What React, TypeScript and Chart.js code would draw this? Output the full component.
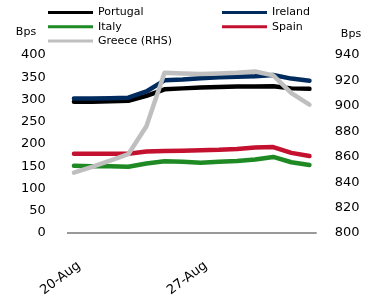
import { useEffect, useRef } from "react";
import { Chart, registerables } from "chart.js";
Chart.register(...registerables);

const categories = [
  "20-Aug", "21-Aug", "22-Aug", "23-Aug", "24-Aug", "25-Aug", "26-Aug",
  "27-Aug", "28-Aug", "29-Aug", "30-Aug", "31-Aug", "1-Sep", "2-Sep",
];
const xTickIndices = [0, 7];

const portugal = [295, 295, 296, 297, 308, 323, 325, 327, 328, 329, 329, 330, 325, 324];
const ireland = [302, 302, 303, 304, 318, 343, 345, 348, 350, 351, 352, 355, 347, 342];
const italy = [151, 150, 150, 149, 156, 161, 160, 158, 160, 162, 165, 171, 159, 153];
const spain = [178, 178, 178, 178, 183, 184, 185, 186, 187, 189, 192, 193, 180, 173];
const greece = [847.5, 852, 857, 862, 884, 926, 925.5, 925, 925.5, 926, 927, 924, 910, 901];

const leftMin = 0, leftMax = 400, leftStep = 50;
const rightMin = 800, rightMax = 940, rightStep = 20;

const FONT = '"DejaVu Sans", Verdana, sans-serif';

const toXY = (arr: number[]) => arr.map((v, i) => ({ x: i, y: v }));

const overlayPlugin = {
  id: "overlay",
  afterDraw(chart: any) {
    const ctx = chart.ctx as CanvasRenderingContext2D;
    ctx.save();
    ctx.font = `11px ${FONT}`;
    ctx.fillStyle = "#000";
    ctx.textBaseline = "middle";
    ctx.textAlign = "left";
    chart.data.datasets.forEach((ds: any, i: number) => {
      const col = i % 2;
      const row = Math.floor(i / 2);
      const x0 = col === 0 ? 48 : 222;
      const y = 12.5 + row * 14.2;
      ctx.strokeStyle = ds.borderColor;
      ctx.lineWidth = 3;
      ctx.lineCap = "butt";
      ctx.beginPath();
      ctx.moveTo(x0, y);
      ctx.lineTo(x0 + 45, y);
      ctx.stroke();
      ctx.fillText(ds.label, x0 + 50, y);
    });
    ctx.textAlign = "center";
    ctx.fillText("Bps", 26, 32);
    ctx.fillText("Bps", 351, 34);
    ctx.restore();
  },
};

export default function App() {
  const ref = useRef<HTMLCanvasElement>(null);
  useEffect(() => {
    if (!ref.current) return;
    const common = {
      fill: false,
      pointRadius: 0,
      borderWidth: 4.5,
      tension: 0,
      borderCapStyle: "round" as const,
      borderJoinStyle: "round" as const,
    };
    const chart = new Chart(ref.current, {
      type: "line",
      data: {
        datasets: [
          { ...common, label: "Portugal", data: toXY(portugal), borderColor: "#000000", yAxisID: "y", order: 3 },
          { ...common, label: "Ireland", data: toXY(ireland), borderColor: "#002b5e", yAxisID: "y", order: 2 },
          { ...common, label: "Italy", data: toXY(italy), borderColor: "#1f8a24", yAxisID: "y", order: 4 },
          { ...common, label: "Spain", data: toXY(spain), borderColor: "#c3112f", yAxisID: "y", order: 1 },
          { ...common, label: "Greece (RHS)", data: toXY(greece), borderColor: "#bfbfbf", yAxisID: "y1", order: 0 },
        ],
      },
      options: {
        animation: false,
        responsive: false,
        maintainAspectRatio: false,
        layout: { padding: { top: 55, left: 0, right: 0, bottom: 0 } },
        plugins: { legend: { display: false }, tooltip: { enabled: false } },
        scales: {
          x: {
            type: "linear",
            min: -0.4,
            max: 13.4,
            grid: { display: false, drawTicks: false },
            border: { display: false },
            afterBuildTicks: (scale: any) => {
              scale.ticks = xTickIndices.map((v) => ({ value: v }));
            },
            afterFit: (scale: any) => {
              scale.height = 66;
            },
            ticks: {
              autoSkip: false,
              minRotation: 37,
              maxRotation: 37,
              padding: 25,
              labelOffset: 5,
              color: "#000",
              font: { family: FONT, size: 13 },
              callback: (value: any) => categories[value as number] ?? "",
            },
          },
          y: {
            position: "left",
            min: leftMin,
            max: leftMax,
            grid: {
              display: true,
              drawTicks: false,
              lineWidth: 2,
              color: (c: any) => (c.tick && c.tick.value === leftMin ? "#999999" : "rgba(0,0,0,0)"),
            },
            border: { display: false },
            afterFit: (scale: any) => {
              scale.width = 66.7;
            },
            ticks: {
              stepSize: leftStep,
              padding: 21,
              color: "#000",
              font: { family: FONT, size: 13 },
            },
          },
          y1: {
            position: "right",
            min: rightMin,
            max: rightMax,
            grid: { display: false, drawTicks: false },
            border: { display: false },
            afterFit: (scale: any) => {
              scale.width = 50.3;
            },
            ticks: {
              stepSize: rightStep,
              padding: 18,
              color: "#000",
              font: { family: FONT, size: 13 },
            },
          },
        },
      },
      plugins: [overlayPlugin],
    });
    return () => chart.destroy();
  }, []);
  return (
    <div style={{ position: "fixed", left: 0, top: 0, width: 367, height: 299, background: "#fff" }}>
      <canvas ref={ref} width={367} height={299} style={{ width: 367, height: 299 }} />
    </div>
  );
}
